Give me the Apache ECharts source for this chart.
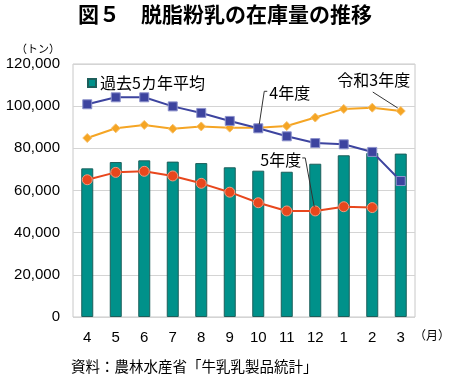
<!DOCTYPE html>
<html><head><meta charset="utf-8">
<script src="https://cdn.jsdelivr.net/npm/echarts@6/dist/echarts.min.js"></script>
<style>html,body{margin:0;padding:0;background:#fff}#c{width:450px;height:378px}</style>
</head><body><div id="c"></div>
<script>
var months = ['4','5','6','7','8','9','10','11','12','1','2','3'];
var avg5 = [70500, 73500, 74300, 73700, 73000, 71000, 69400, 68900, 72700, 76700, 77800, 77500];
var r3 = [84900, 89500, 91100, 89300, 90400, 89800, 89800, 90600, 94600, 98700, 99300, 97700];
var r4 = [100900, 104200, 104200, 99900, 96800, 93000, 89500, 85700, 82500, 81900, 78300, 64500];
var r5 = [65100, 68600, 69100, 66900, 63400, 59200, 54200, 50300, 50300, 52300, 51900];
var yTicks = [0, 20000, 40000, 60000, 80000, 100000, 120000];

var FONT = '"Liberation Sans","Noto Sans CJK JP",sans-serif';
var chart = echarts.init(document.getElementById('c'), null, {renderer:'canvas'});
var option = {
  animation: false,
  textStyle: {fontFamily: FONT},
  title: {
    text: '図５　脱脂粉乳の在庫量の推移',
    left: 'center', top: -1,
    textStyle: {fontFamily: '"Noto Sans CJK JP",sans-serif', fontSize: 21, fontWeight: 'bold', color: '#000'}
  },
  grid: {left: 73, right: 35, top: 64, bottom: 61, show: true, borderColor: '#c8c8c8', borderWidth: 1},
  legend: {
    data: ['過去5カ年平均'], left: 82, top: 70, icon: 'rect', itemWidth: 8, itemHeight: 8, itemGap: 4,
    textStyle: {fontFamily: '"Noto Sans CJK JP",sans-serif', fontSize: 16, color: '#000', padding: [0,0,0,-1]}
  },
  xAxis: {
    type: 'category', data: months,
    axisLine: {show: false}, axisTick: {show: false},
    axisLabel: {fontSize: 15, color: '#000', margin: 13}
  },
  yAxis: {
    type: 'value', min: yTicks[0], max: yTicks[yTicks.length-1], interval: yTicks[1]-yTicks[0],
    axisLine: {show: false}, axisTick: {show: false},
    axisLabel: {fontSize: 15, color: '#000', margin: 13, formatter: function(v){return v.toLocaleString('en-US');}},
    splitLine: {lineStyle: {color: '#d4d4d4', width: 1}}
  },
  series: [
    {name: '過去5カ年平均', type: 'bar', data: avg5, barWidth: 12, z: 1,
     itemStyle: {color: '#00918a', borderColor: '#1d5f5b', borderWidth: 1}},
    {name: '令和3年度', type: 'line', data: r3, symbol: 'diamond', symbolSize: 9, z: 3,
     lineStyle: {color: '#f5a524', width: 2}, itemStyle: {color: '#f5a524', borderColor: '#f7c06a', borderWidth: 1}},
    {name: '4年度', type: 'line', data: r4, symbol: 'rect', symbolSize: 9, z: 4,
     lineStyle: {color: '#3d449f', width: 2}, itemStyle: {color: '#3d449f', borderColor: '#8d92cc', borderWidth: 1}},
    {name: '5年度', type: 'line', data: r5, symbol: 'circle', symbolSize: 10, z: 5,
     lineStyle: {color: '#e8471d', width: 2}, itemStyle: {color: '#e8471d', borderColor: '#f29a7f', borderWidth: 1}}
  ]
};
chart.setOption(option);

function px(i, v){ return chart.convertToPixel({xAxisIndex:0, yAxisIndex:0}, [i, v]); }
var p3 = px(11, r3[11]);
var p4 = px(6, r4[6]);
var p5 = px(8, r5[8]);
var lab = {fontFamily: '"Noto Sans CJK JP",sans-serif', fontSize: 16, fill: '#000'};
var ln = {stroke: '#333', lineWidth: 1};
chart.setOption({graphic: [
  {type: 'text', x: p3[0]-27, y: p3[1]-31, style: Object.assign({text: '令和3年度', align: 'center', verticalAlign: 'middle'}, lab), z: 10},
  {type: 'line', shape: {x1: p3[0]-28, y1: p3[1]-19, x2: p3[0]-3, y2: p3[1]-3}, style: ln, z: 10},
  {type: 'text', x: p4[0]+11, y: p4[1]-35, style: Object.assign({text: '4年度', align: 'left', verticalAlign: 'middle'}, lab), z: 10},
  {type: 'polyline', shape: {points: [[p4[0]+1, p4[1]-4], [p4[0]+6, p4[1]-37], [p4[0]+9, p4[1]-37]]}, style: ln, z: 10},
  {type: 'text', x: p5[0]-14, y: p5[1]-51, style: Object.assign({text: '5年度', align: 'right', verticalAlign: 'middle'}, lab), z: 10},
  {type: 'polyline', shape: {points: [[p5[0]-1, p5[1]-4], [p5[0]-10, p5[1]-53], [p5[0]-13, p5[1]-53]]}, style: ln, z: 10},
  {type: 'text', left: 16, top: 43, style: {text: '（トン）', fontFamily: '"Noto Sans CJK JP",sans-serif', fontSize: 11, fill: '#000'}},
  {type: 'text', left: 414, top: 329, style: {text: '（月）', fontFamily: '"Noto Sans CJK JP",sans-serif', fontSize: 12, fill: '#000'}},
  {type: 'text', left: 71, top: 359, style: {text: '資料：農林水産省「牛乳乳製品統計」', fontFamily: '"Noto Sans CJK JP",sans-serif', fontSize: 14.5, fill: '#000'}}
]});
</script>
</body></html>
